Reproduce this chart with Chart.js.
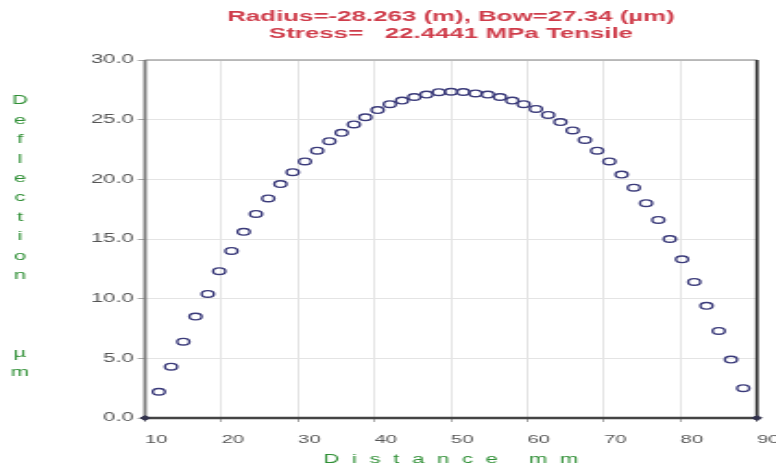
<!DOCTYPE html>
<html>
<head>
<meta charset="utf-8">
<script src="https://cdn.jsdelivr.net/npm/chart.js@4.4.1/dist/chart.umd.min.js"></script>
<style>
  html, body { margin: 0; padding: 0; background: #fff; }
  /* the plot is drawn on a narrow canvas and widened on screen */
  #plot { display: block; width: 776px !important; height: 468px !important; }
</style>
</head>
<body>
<canvas id="plot" width="420" height="468"></canvas>
<script>
// Measured profile: distance along the wafer (mm) and surface deflection (µm)
const distanceMm = [
  11.8, 13.4, 15.0, 16.6, 18.2, 19.7, 21.3, 22.9, 24.5, 26.1,
  27.7, 29.3, 30.9, 32.5, 34.1, 35.7, 37.3, 38.8, 40.4, 42.0,
  43.6, 45.2, 46.8, 48.4, 50.0, 51.6, 53.2, 54.8, 56.4, 58.0,
  59.5, 61.1, 62.7, 64.3, 65.9, 67.5, 69.1, 70.7, 72.3, 73.9,
  75.5, 77.1, 78.6, 80.2, 81.8, 83.4, 85.0, 86.6, 88.2
];
const deflectionUm = [
  2.2, 4.3, 6.4, 8.5, 10.4, 12.3, 14.0, 15.6, 17.1, 18.4,
  19.6, 20.6, 21.5, 22.4, 23.2, 23.9, 24.6, 25.2, 25.8, 26.3,
  26.6, 26.9, 27.1, 27.3, 27.34, 27.32, 27.2, 27.1, 26.9, 26.6,
  26.3, 25.9, 25.4, 24.8, 24.1, 23.3, 22.4, 21.5, 20.4, 19.3,
  18.0, 16.6, 15.0, 13.3, 11.4, 9.4, 7.3, 4.9, 2.5
];
// Reference (zero) points at both ends of the scan
const endDistanceMm = [10, 90];
const endDeflectionUm = [0, 0];

const xTicks = [10, 20, 30, 40, 50, 60, 70, 80, 90];
const yTicks = [0, 5, 10, 15, 20, 25, 30];

const titleLines = ['Radius=-28.263 (m), Bow=27.34 (µm)', 'Stress=   22.4441 MPa Tensile'];
const xAxisTitle = 'Distance mm';
const yAxisTitle = 'Deflection   µm';

const GREEN = '#2f8f35';
const FONT = 'Arial, "Liberation Sans", sans-serif';

// Frame around the plotting area
const frame = {
  id: 'frame',
  beforeDatasetsDraw(chart) {
    const { ctx, chartArea: a } = chart;
    ctx.save();
    const line = (x1, y1, x2, y2, color, w) => {
      ctx.beginPath();
      ctx.strokeStyle = color;
      ctx.lineWidth = w;
      ctx.moveTo(x1, y1);
      ctx.lineTo(x2, y2);
      ctx.stroke();
    };
    line(a.left, a.top, a.right, a.top, '#a8a8a8', 1.4);
    line(a.left, a.top, a.left, a.bottom, '#777777', 1.8);
    line(a.right, a.top, a.right, a.bottom, '#333333', 1.8);
    line(a.left, a.bottom, a.right, a.bottom, '#444444', 2.6);
    ctx.restore();
  }
};

// Spaced-out axis captions: horizontal under the x axis, stacked letters left of the y axis
const axisCaptions = {
  id: 'axisCaptions',
  afterDraw(chart) {
    const { ctx, chartArea: a } = chart;
    ctx.save();
    ctx.fillStyle = GREEN;
    ctx.textBaseline = 'middle';

    ctx.font = '12px ' + FONT;
    ctx.textAlign = 'left';
    const gap = 6.8;
    const chars = Array.from(xAxisTitle);
    const widths = chars.map(c => ctx.measureText(c).width);
    const total = widths.reduce((s, w) => s + w, 0) + gap * (chars.length - 1);
    let x = (a.left + a.right) / 2 - total / 2;
    chars.forEach((c, i) => {
      ctx.fillText(c, x, 460);
      x += widths[i] + gap;
    });

    ctx.font = '12px ' + FONT;
    ctx.textAlign = 'center';
    Array.from(yAxisTitle).forEach((c, i) => {
      if (c !== ' ') ctx.fillText(c, 10.8, 101 + i * 19.4);
    });
    ctx.restore();
  }
};

new Chart(document.getElementById('plot'), {
  type: 'scatter',
  data: {
    datasets: [
      {
        label: 'Deflection',
        data: distanceMm.map((x, i) => ({ x, y: deflectionUm[i] })),
        pointStyle: 'circle',
        pointRadius: 3.3,
        pointBorderWidth: 1.4,
        pointBorderColor: '#3b3b7a',
        pointBackgroundColor: 'rgba(255,255,255,0)',
        showLine: false
      },
      {
        label: 'Ends',
        data: endDistanceMm.map((x, i) => ({ x, y: endDeflectionUm[i] })),
        pointStyle: 'rectRot',
        pointRadius: 2.6,
        pointBorderWidth: 1,
        pointBorderColor: '#33334d',
        pointBackgroundColor: '#33334d',
        showLine: false,
        clip: false
      }
    ]
  },
  options: {
    responsive: false,
    animation: false,
    devicePixelRatio: 1,
    layout: { padding: 0 },
    plugins: {
      legend: { display: false },
      tooltip: { enabled: false },
      title: {
        display: true,
        fullSize: false,
        text: titleLines,
        color: '#cf3d4b',
        font: { family: FONT, size: 14, weight: 'bold', lineHeight: 1.2 },
        padding: { top: 8.6, bottom: 17.8 }
      }
    },
    scales: {
      x: {
        type: 'linear',
        position: 'bottom',
        min: 10,
        max: 90,
        afterBuildTicks: s => { s.ticks = xTicks.map(v => ({ value: v })); },
        afterFit: s => { s.height = 50; s.paddingLeft = 0; s.paddingRight = 10.3; },
        border: { display: false },
        grid: { color: '#e4e4e4', lineWidth: 1, tickLength: 4, tickColor: '#aaaaaa' },
        ticks: {
          align: 'start',
          padding: 11,
          color: '#555555',
          font: { family: FONT, size: 11 },
          callback: v => String(v)
        }
      },
      y: {
        type: 'linear',
        min: 0,
        max: 30,
        afterBuildTicks: s => { s.ticks = yTicks.map(v => ({ value: v })); },
        afterFit: s => { s.width = 78.5; s.paddingTop = 0; s.paddingBottom = 0; },
        border: { display: false },
        grid: { color: '#e4e4e4', lineWidth: 1, tickLength: 4, tickColor: '#aaaaaa' },
        ticks: {
          padding: 2,
          color: '#555555',
          font: { family: FONT, size: 12 },
          callback: v => Number(v).toFixed(1)
        }
      }
    }
  },
  plugins: [frame, axisCaptions]
});
</script>
</body>
</html>
